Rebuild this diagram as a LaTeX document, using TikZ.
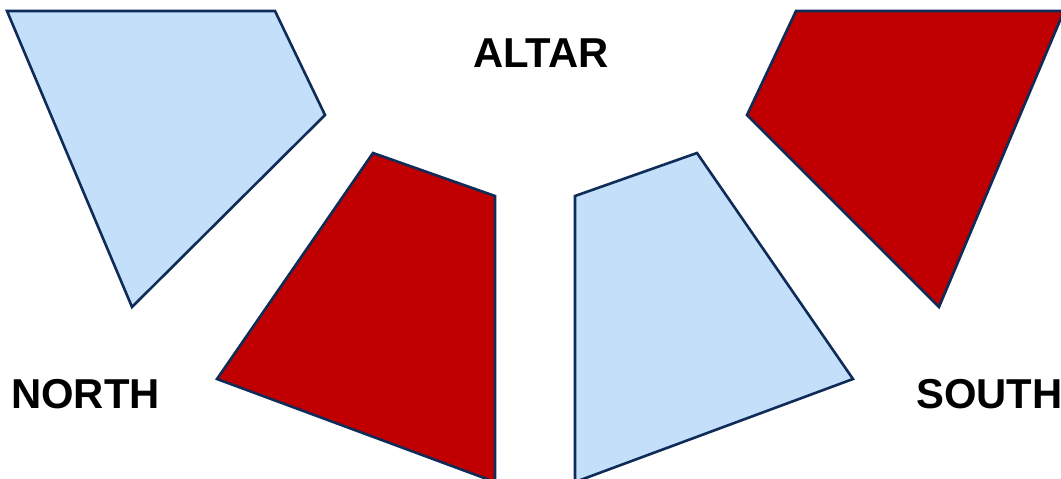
\documentclass[tikz,border=0pt]{standalone}
\usepackage{fontspec}
\setmainfont{Liberation Sans}
\definecolor{edge}{HTML}{0F2B57}
\definecolor{lblue}{HTML}{C3DFFA}
\definecolor{dred}{HTML}{C00000}
\tikzset{
  blk/.style={draw=edge, line width=2.6pt, line join=miter},
  bluesec/.style={blk, fill=lblue},
  redsec/.style={blk, fill=dred},
  lab/.style={inner sep=0pt, font=\fontsize{41.8}{48}\selectfont\bfseries}
}
\begin{document}
\begin{tikzpicture}[x=1pt,y=-1pt]
\useasboundingbox (0,0) rectangle (1061,479);
\clip (0,0) rectangle (1061,479);
\draw[bluesec] (7,11) -- (275,11) -- (325,115) -- (132,307) -- cycle;
\draw[redsec] (373,153) -- (495,196) -- (495,482) -- (217,379) -- cycle;
\draw[bluesec] (575,196) -- (697,153) -- (853,379) -- (575,482) -- cycle;
\draw[redsec] (796,11) -- (1064,11) -- (939,307) -- (747,115) -- cycle;
\node[lab, anchor=base] (altar) at (541,67) {ALTAR};
\node[lab, anchor=base west] (north) at (11,408) {NORTH};
\node[lab, anchor=base west] (south) at (916,408) {SOUTH};
\end{tikzpicture}
\end{document}
